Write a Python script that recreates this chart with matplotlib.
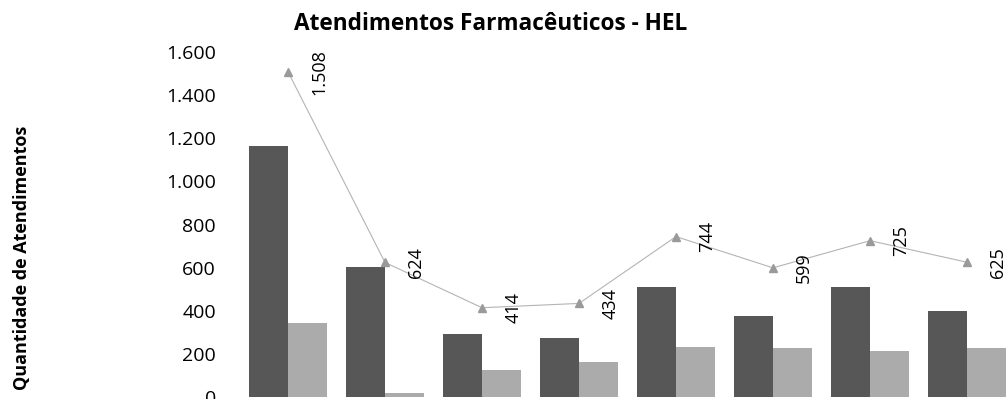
import matplotlib.pyplot as plt
from matplotlib.ticker import FuncFormatter, MultipleLocator
import numpy as np

plt.rcParams['font.family'] = ['Open Sans', 'DejaVu Sans']

categories = ['1', '2', '3', '4', '5', '6', '7', '8']
serie_escura = [1165, 605, 290, 273, 511, 374, 510, 397]
serie_clara = [343, 19, 124, 161, 233, 225, 215, 228]
total = [1508, 624, 414, 434, 744, 599, 725, 625]


def milhar(valor, pos=None):
    return f'{int(valor):,}'.replace(',', '.')


fig = plt.figure(figsize=(10.07, 3.99), dpi=100)
# the picture is a crop: the plot area runs past the right edge
ax = fig.add_axes([239.5 / 1007, 2 / 399, 776 / 1007, 345 / 399])

x = np.arange(len(categories))
largura = 0.4
ax.bar(x - largura / 2, serie_escura, largura, color='#575757')
ax.bar(x + largura / 2, serie_clara, largura, color='#ababab')
ax.plot(x, total, color='#b4b4b4', linewidth=0.8, marker='^',
        markersize=6, markerfacecolor='#9a9a9a', markeredgecolor='#9a9a9a')

for xi, v in zip(x, total):
    ax.annotate(milhar(v), (xi, v), xytext=(22.5, 0), textcoords='offset points',
                rotation=90, ha='center', va='center', fontsize=13)

ax.set_xlim(-0.5, len(categories) - 0.5)
ax.set_ylim(0, 1600)
ax.yaxis.set_major_locator(MultipleLocator(200))
ax.yaxis.set_major_formatter(FuncFormatter(milhar))
ax.set_xticks([])
ax.tick_params(axis='y', length=0, labelsize=14, pad=17)
for lado in ax.spines.values():
    lado.set_visible(False)

fig.text(491 / 1007, 1 - 24 / 399, 'Atendimentos Farmacêuticos - HEL',
         ha='center', va='center', fontsize=16.3, fontweight='bold')
fig.text(22 / 1007, 1 - 258 / 399, 'Quantidade de Atendimentos',
         ha='center', va='center', rotation=90, fontsize=13, fontweight='bold')

fig.savefig('out.png', dpi=100)
